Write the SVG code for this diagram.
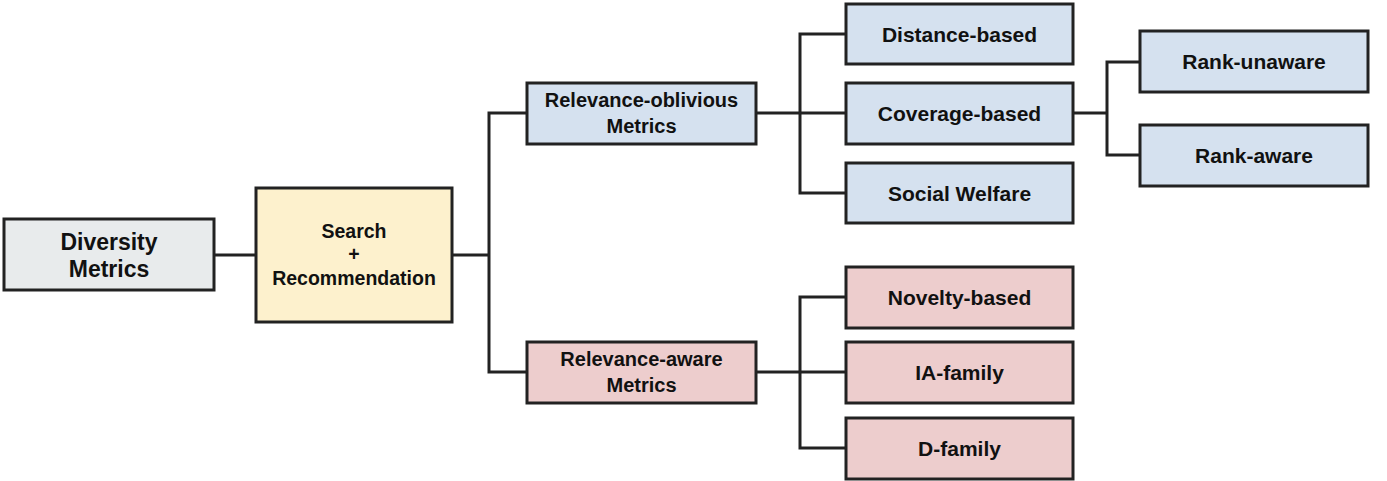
<svg xmlns="http://www.w3.org/2000/svg" width="1387" height="481" viewBox="0 0 1387 481">
<style>
.box{stroke:#222;stroke-width:3}
.gray{fill:#e8ebec}
.yellow{fill:#fdf1cd}
.blue{fill:#d5e1ef}
.pink{fill:#edcdcd}
.lbl{font-family:"Liberation Sans",Arial,sans-serif;font-weight:bold;fill:#111;text-anchor:middle}
.leaf{font-size:21px}
.conn{fill:none;stroke:#222;stroke-width:3;stroke-linecap:square}
</style>
<rect width="1387" height="481" fill="#fff"/>
<g id="connectors">
<path class="conn" d="M214 255 H256"/>
<path class="conn" d="M452 255 H489 M489 113 V372 M489 113 H527 M489 372 H527"/>
<path class="conn" d="M756 113 H846 M800 34 V193 M800 34 H846 M800 193 H846"/>
<path class="conn" d="M756 372 H846 M800 297 V448 M800 297 H846 M800 448 H846"/>
<path class="conn" d="M1073 113 H1107 M1107 62 V155 M1107 62 H1140 M1107 155 H1140"/>
</g>
<g id="diversity-metrics">
<rect class="box gray" x="4" y="219" width="210" height="71"/>
<text class="lbl" x="109" y="250" font-size="23">Diversity</text>
<text class="lbl" x="109" y="277" font-size="23">Metrics</text>
</g>
<g id="search-recommendation">
<rect class="box yellow" x="256" y="188" width="196" height="134"/>
<text class="lbl" x="354" y="238" font-size="19.5">Search</text>
<text class="lbl" x="354" y="261" font-size="19.5">+</text>
<text class="lbl" x="354" y="285" font-size="19.5">Recommendation</text>
</g>
<g id="relevance-oblivious">
<rect class="box blue" x="527" y="83" width="229" height="61"/>
<text class="lbl" x="641.5" y="107" font-size="20">Relevance-oblivious</text>
<text class="lbl" x="641.5" y="133" font-size="20">Metrics</text>
</g>
<g id="relevance-aware">
<rect class="box pink" x="527" y="342" width="229" height="61"/>
<text class="lbl" x="641.5" y="366" font-size="20">Relevance-aware</text>
<text class="lbl" x="641.5" y="392" font-size="20">Metrics</text>
</g>
<g id="distance-based">
<rect class="box blue" x="846" y="4" width="227" height="60"/>
<text class="lbl leaf" x="959.5" y="41.5">Distance-based</text>
</g>
<g id="coverage-based">
<rect class="box blue" x="846" y="83" width="227" height="61"/>
<text class="lbl leaf" x="959.5" y="121">Coverage-based</text>
</g>
<g id="social-welfare">
<rect class="box blue" x="846" y="163" width="227" height="60"/>
<text class="lbl leaf" x="959.5" y="200.5">Social Welfare</text>
</g>
<g id="rank-unaware">
<rect class="box blue" x="1140" y="31" width="228" height="61"/>
<text class="lbl leaf" x="1254" y="69">Rank-unaware</text>
</g>
<g id="rank-aware">
<rect class="box blue" x="1140" y="125" width="228" height="61"/>
<text class="lbl leaf" x="1254" y="163">Rank-aware</text>
</g>
<g id="novelty-based">
<rect class="box pink" x="846" y="267" width="227" height="61"/>
<text class="lbl leaf" x="959.5" y="305">Novelty-based</text>
</g>
<g id="ia-family">
<rect class="box pink" x="846" y="342" width="227" height="61"/>
<text class="lbl leaf" x="959.5" y="380">IA-family</text>
</g>
<g id="d-family">
<rect class="box pink" x="846" y="418" width="227" height="61"/>
<text class="lbl leaf" x="959.5" y="456">D-family</text>
</g>
</svg>
